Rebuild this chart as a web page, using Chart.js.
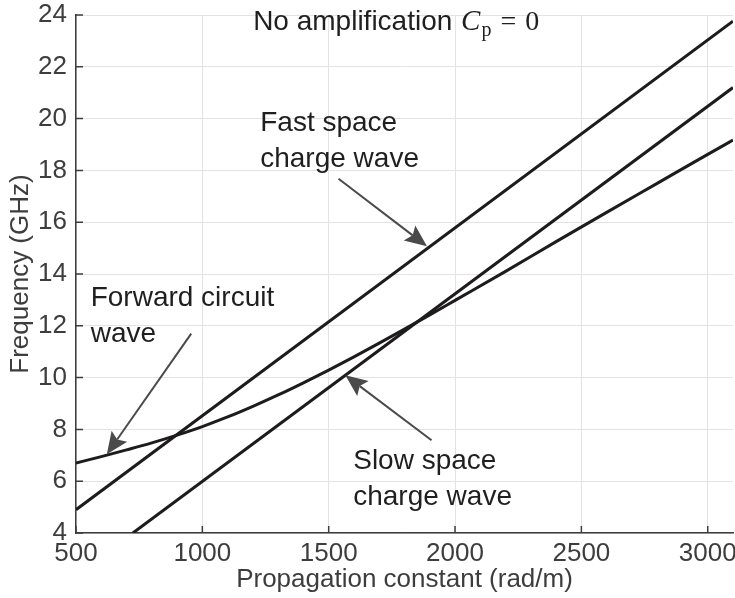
<!DOCTYPE html>
<html>
<head>
<meta charset="utf-8">
<title>Dispersion diagram</title>
<script src="https://cdn.jsdelivr.net/npm/chart.js@4.4.0/dist/chart.umd.min.js"></script>
<style>
  html, body { margin: 0; padding: 0; background: #fff; }
  #wrap { width: 735px; height: 598px; }
</style>
</head>
<body>
<div id="wrap"><canvas id="chart" width="735" height="598"></canvas></div>
<script>
// Values (propagation constant in rad/m, frequency in GHz)
const fastBeta = [500, 3100];
const fastFreq = [4.9, 23.76];

const slowBeta = [725, 3100];
const slowFreq = [4.0, 21.2];

const circuitBeta = [500, 600, 700, 800, 900, 1000, 1100, 1200, 1300, 1400, 1500, 1600, 1700, 1800, 1900, 2000, 2200, 2400, 2600, 2800, 3000, 3100];
const circuitFreq = [6.70, 6.95, 7.21, 7.48, 7.78, 8.11, 8.48, 8.89, 9.33, 9.80, 10.29, 10.80, 11.33, 11.87, 12.42, 12.98, 14.10, 15.25, 16.38, 17.50, 18.62, 19.17];

const xTicks = [500, 1000, 1500, 2000, 2500, 3000];
const yTicks = [4, 6, 8, 10, 12, 14, 16, 18, 20, 22, 24];

const SANS = '"Liberation Sans", Arial, Helvetica, sans-serif';
const SERIF = '"Liberation Serif", "Times New Roman", serif';
const AXIS_COLOR = '#3d3d3d';
const LINE_COLOR = '#1e1b1c';

const toPoints = (xs, ys) => xs.map((x, i) => ({ x, y: ys[i] }));

// Text labels and arrows, anchored in data units
const notes = [
  { x: 1229, y: 19.51, lines: ['Fast space', 'charge wave'] },
  { x: 558, y: 12.75, lines: ['Forward circuit', 'wave'] },
  { x: 1597, y: 6.47, lines: ['Slow space', 'charge wave'] }
];
const arrows = [
  { from: [1539, 17.68], to: [1889, 15.07] },
  { from: [956, 11.70], to: [622, 7.04] },
  { from: [1907, 7.58], to: [1566, 10.09] }
];

function drawArrow(ctx, x0, y0, x1, y1) {
  const ang = Math.atan2(y1 - y0, x1 - x0);
  const cos = Math.cos(ang), sin = Math.sin(ang);
  const headLen = 22, headHalf = 9.5, notch = 4;
  ctx.beginPath();
  ctx.moveTo(x0, y0);
  ctx.lineTo(x1 - cos * (headLen - notch), y1 - sin * (headLen - notch));
  ctx.stroke();
  const bx = x1 - cos * headLen, by = y1 - sin * headLen;
  ctx.beginPath();
  ctx.moveTo(x1, y1);
  ctx.lineTo(bx - sin * headHalf, by + cos * headHalf);
  ctx.lineTo(x1 - cos * (headLen - notch), y1 - sin * (headLen - notch));
  ctx.lineTo(bx + sin * headHalf, by - cos * headHalf);
  ctx.closePath();
  ctx.fill();
}

// MATLAB-style inward tick marks
const innerTicks = {
  id: 'innerTicks',
  afterDraw(chart) {
    const { ctx, chartArea, scales: { x, y } } = chart;
    ctx.save();
    ctx.strokeStyle = AXIS_COLOR;
    ctx.lineWidth = 1.5;
    ctx.beginPath();
    xTicks.forEach(v => {
      const px = x.getPixelForValue(v);
      ctx.moveTo(px, chartArea.bottom);
      ctx.lineTo(px, chartArea.bottom - 7);
    });
    yTicks.forEach(v => {
      const py = y.getPixelForValue(v);
      ctx.moveTo(chartArea.left, py);
      ctx.lineTo(chartArea.left + 7, py);
    });
    ctx.stroke();
    ctx.restore();
  }
};

const annotations = {
  id: 'annotations',
  afterDatasetsDraw(chart) {
    const { ctx, scales: { x, y } } = chart;
    ctx.save();

    ctx.strokeStyle = '#4a4a4a';
    ctx.fillStyle = '#4a4a4a';
    ctx.lineWidth = 2;
    arrows.forEach(a => drawArrow(ctx,
      x.getPixelForValue(a.from[0]), y.getPixelForValue(a.from[1]),
      x.getPixelForValue(a.to[0]), y.getPixelForValue(a.to[1])));

    ctx.fillStyle = '#1f1f1f';
    ctx.textBaseline = 'alphabetic';
    ctx.textAlign = 'left';
    ctx.font = '28px ' + SANS;
    notes.forEach(n => {
      const px = x.getPixelForValue(n.x);
      const py = y.getPixelForValue(n.y);
      n.lines.forEach((line, i) => ctx.fillText(line, px, py + i * 35.5));
    });

    // Title: "No amplification C_p = 0"
    let tx = x.getPixelForValue(1201);
    const ty = y.getPixelForValue(23.41);
    const lead = 'No amplification ';
    ctx.fillText(lead, tx, ty);
    tx += ctx.measureText(lead).width + 1;
    ctx.font = 'italic 29px ' + SERIF;
    ctx.fillText('C', tx, ty);
    tx += ctx.measureText('C').width + 1;
    ctx.font = '20px ' + SERIF;
    ctx.fillText('p', tx, ty + 6);
    tx += ctx.measureText('p').width + 9;
    ctx.font = '28px ' + SERIF;
    ctx.fillText('=', tx, ty);
    tx += ctx.measureText('=').width + 9;
    ctx.fillText('0', tx, ty);

    ctx.restore();
  }
};

const lineStyle = {
  showLine: true,
  pointRadius: 0,
  borderWidth: 3,
  borderColor: LINE_COLOR,
  backgroundColor: LINE_COLOR,
  fill: false
};

new Chart(document.getElementById('chart'), {
  type: 'scatter',
  data: {
    datasets: [
      { ...lineStyle, label: 'Fast space charge wave', data: toPoints(fastBeta, fastFreq) },
      { ...lineStyle, label: 'Slow space charge wave', data: toPoints(slowBeta, slowFreq) },
      { ...lineStyle, label: 'Forward circuit wave', data: toPoints(circuitBeta, circuitFreq), cubicInterpolationMode: 'monotone' }
    ]
  },
  options: {
    responsive: false,
    animation: false,
    layout: { padding: { top: 15, right: 2, left: 0, bottom: 0 } },
    plugins: {
      legend: { display: false },
      tooltip: { enabled: false }
    },
    scales: {
      x: {
        type: 'linear',
        min: 500,
        max: 3100,
        afterBuildTicks: s => { s.ticks = xTicks.map(v => ({ value: v })); },
        afterFit: s => {
          s.height = 65;
          // labels fit inside the canvas, so no extra side padding is needed
          s.paddingLeft = 0;
          s.paddingRight = 0;
        },
        grid: { color: '#e3e3e3', lineWidth: 1, drawTicks: false },
        border: { color: AXIS_COLOR, width: 1.5 },
        ticks: {
          color: AXIS_COLOR,
          padding: 5,
          maxRotation: 0,
          font: { family: SANS, size: 26 },
          callback: v => String(v)
        },
        title: {
          display: true,
          text: 'Propagation constant (rad/m)',
          color: AXIS_COLOR,
          font: { family: SANS, size: 26 },
          padding: { top: 0, bottom: 3 }
        }
      },
      y: {
        type: 'linear',
        min: 4,
        max: 24,
        afterBuildTicks: s => { s.ticks = yTicks.map(v => ({ value: v })); },
        afterFit: s => {
          s.width = 76;
          s.paddingTop = 0;
          s.paddingBottom = 0;
        },
        grid: { color: '#e3e3e3', lineWidth: 1, drawTicks: false },
        border: { color: AXIS_COLOR, width: 1.5 },
        ticks: {
          color: AXIS_COLOR,
          padding: 9,
          font: { family: SANS, size: 26, lineHeight: 1 },
          callback: v => String(v)
        },
        title: {
          display: true,
          text: 'Frequency (GHz)',
          color: AXIS_COLOR,
          font: { family: SANS, size: 26 },
          padding: { top: 5, bottom: 0 }
        }
      }
    }
  },
  plugins: [annotations, innerTicks]
});
</script>
</body>
</html>
